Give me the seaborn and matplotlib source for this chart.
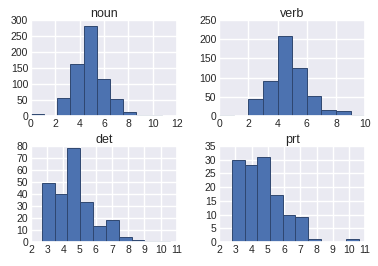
import numpy as np
import pandas as pd
import seaborn as sns
import matplotlib.pyplot as plt

sns.set_theme(style="darkgrid")
plt.rcParams['font.family'] = ['Liberation Sans', 'DejaVu Sans']

# bin edges and counts
noun_edges = [0, 1.08, 2.16, 3.24, 4.32, 5.4, 6.48, 7.56, 8.64, 9.72, 10.8]
noun_counts = [5, 0, 55, 163, 281, 117, 52, 14, 3, 3]

verb_edges = [0, 1, 2, 3, 4, 5, 6, 7, 8, 9, 10]
verb_counts = [4, 0, 45, 90, 208, 125, 51, 17, 12, 4]

det_edges = [2.67, 3.46, 4.25, 5.04, 5.83, 6.62, 7.41, 8.2, 8.99, 9.78, 10.57]
det_counts = [49, 40, 78, 33, 13, 18, 4, 2, 1, 1]

prt_edges = [2.8, 3.58, 4.36, 5.14, 5.92, 6.7, 7.48, 8.26, 9.04, 9.82, 10.6]
prt_counts = [30, 28, 31, 17, 10, 9, 1, 0, 0, 1]

panels = [
    ("noun", noun_edges, noun_counts, range(0, 13, 2), range(0, 301, 50)),
    ("verb", verb_edges, verb_counts, range(0, 11, 2), range(0, 251, 50)),
    ("det", det_edges, det_counts, range(2, 12), range(0, 81, 10)),
    ("prt", prt_edges, prt_counts, range(2, 12), range(0, 36, 5)),
]

fig, axes = plt.subplots(2, 2, figsize=(3.78, 2.66), dpi=100)
fig.subplots_adjust(left=0.082, right=0.966, top=0.925, bottom=0.09,
                    wspace=0.29, hspace=0.31)

for ax, (name, edges, counts, xt, yt) in zip(axes.flat, panels):
    e = np.array(edges)
    df = pd.DataFrame({"x": (e[:-1] + e[1:]) / 2, "n": counts})
    sns.histplot(data=df, x="x", weights="n", bins=list(edges), ax=ax,
                 color="#4C72B0", alpha=1, edgecolor="#2f4770", linewidth=0.7)
    ax.set_xticks(list(xt))
    ax.set_yticks(list(yt))
    ax.set_xlim(xt[0], xt[-1])
    ax.set_ylim(yt[0], yt[-1])
    ax.set_title(name, fontsize=9, pad=2)
    ax.set_xlabel("")
    ax.set_ylabel("")
    ax.tick_params(labelsize=7.5, pad=2, length=0)

fig.savefig("out.png", dpi=100)
